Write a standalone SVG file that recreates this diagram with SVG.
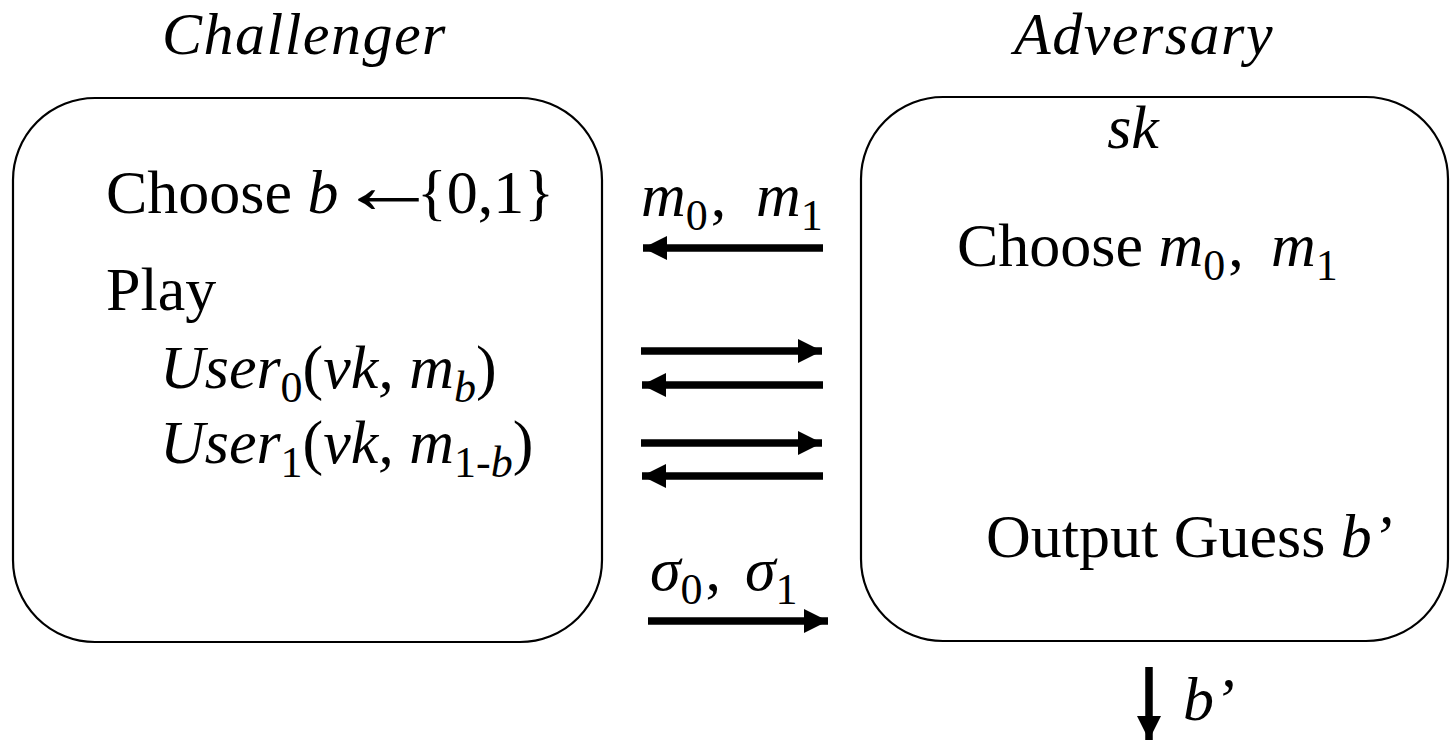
<svg xmlns="http://www.w3.org/2000/svg" width="1454" height="740" viewBox="0 0 1454 740">
<style>
text{font-family:'Liberation Serif','Times New Roman',serif;font-size:62px;fill:#000}
.t{font-size:60px;font-style:italic;letter-spacing:1.5px}
.i{font-style:italic}
.sub{font-size:44px}
.sym{font-size:80px}
.box{fill:#fff;stroke:#000;stroke-width:2.2}
.arr{stroke:#000;stroke-width:7.5;fill:none}
</style>
<defs>
<marker id="ah" markerUnits="userSpaceOnUse" markerWidth="26" markerHeight="26" refX="24" refY="12" orient="auto">
<path d="M0,0 L24,12 L0,24 Z" fill="#000"/>
</marker>
</defs>
<rect width="1454" height="740" fill="#fff"/>
<g id="challenger">
<text class="t" x="162" y="54">Challenger</text>
<rect class="box" x="13" y="98" width="589" height="544" rx="82" ry="82"/>
<text x="106" y="213">Choose <tspan class="i">b</tspan></text>
<text class="sym" transform="translate(337 213) scale(1.28 1)">←</text>
<text x="417" y="213">{0,1}</text>
<text x="106" y="310">Play</text>
<text x="160" y="388"><tspan class="i">User</tspan><tspan class="sub" dy="14">0</tspan><tspan dy="-14">(</tspan><tspan class="i">vk, m</tspan><tspan class="sub i" dy="14">b</tspan><tspan dy="-14">)</tspan></text>
<text x="160" y="463"><tspan class="i">User</tspan><tspan class="sub" dy="14">1</tspan><tspan dy="-14">(</tspan><tspan class="i">vk, m</tspan><tspan class="sub" dy="14">1-</tspan><tspan class="sub i">b</tspan><tspan dy="-14">)</tspan></text>
</g>
<g id="adversary">
<text class="t" x="1014" y="54">Adversary</text>
<rect class="box" x="861" y="97" width="587" height="544" rx="82" ry="82"/>
<text class="i" x="1133" y="148" text-anchor="middle">sk</text>
<text x="957" y="266">Choose <tspan class="i">m</tspan><tspan class="sub" dy="14">0</tspan><tspan dy="-14" dx="3">, </tspan><tspan class="i" x="1271">m</tspan><tspan class="sub" dy="14">1</tspan></text>
<text x="986" y="557">Output Guess <tspan class="i">b’</tspan></text>
</g>
<g id="connectors">
<text x="641" y="216"><tspan class="i">m</tspan><tspan class="sub" dy="14">0</tspan><tspan dy="-14" dx="3">, </tspan><tspan class="i" x="756">m</tspan><tspan class="sub" dy="14">1</tspan></text>
<line class="arr" x1="823" y1="248" x2="643" y2="248" marker-end="url(#ah)"/>
<line class="arr" x1="641" y1="351" x2="822" y2="351" marker-end="url(#ah)"/>
<line class="arr" x1="823" y1="385" x2="642" y2="385" marker-end="url(#ah)"/>
<line class="arr" x1="641" y1="443" x2="822" y2="443" marker-end="url(#ah)"/>
<line class="arr" x1="823" y1="476" x2="642" y2="476" marker-end="url(#ah)"/>
<text x="650" y="590"><tspan class="i">σ</tspan><tspan class="sub" dy="14">0</tspan><tspan dy="-14" dx="3">, </tspan><tspan class="i" x="745">σ</tspan><tspan class="sub" dy="14">1</tspan></text>
<line class="arr" x1="648" y1="621" x2="828" y2="621" marker-end="url(#ah)"/>
<line class="arr" x1="1149" y1="667" x2="1149" y2="740" marker-end="url(#ah)"/>
<text class="i" x="1183" y="720">b’</text>
</g>
</svg>
